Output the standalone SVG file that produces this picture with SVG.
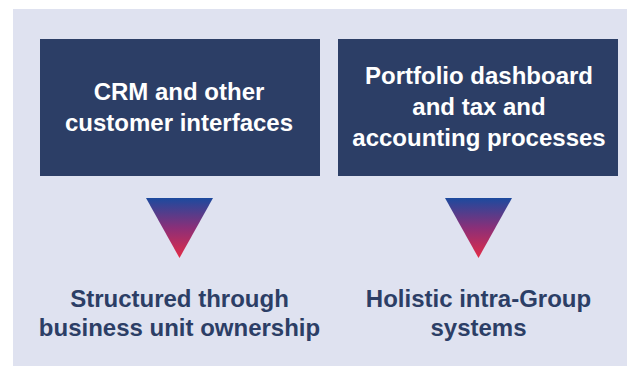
<svg xmlns="http://www.w3.org/2000/svg" width="627" height="366" viewBox="0 0 627 366">
  <defs>
    <linearGradient id="tri" x1="0" y1="0" x2="0" y2="1">
      <stop offset="0" stop-color="#1c4a9e"/>
      <stop offset="0.5" stop-color="#8b2f78"/>
      <stop offset="1" stop-color="#e32c47"/>
    </linearGradient>
    <style>
      .box { fill: #2c3e66; }
      .boxtxt { fill: #ffffff; font-family: "Liberation Sans", Arial, sans-serif; font-weight: bold; font-size: 24px; text-anchor: middle; }
      .lbl { fill: #2c3e66; font-family: "Liberation Sans", Arial, sans-serif; font-weight: bold; font-size: 24px; text-anchor: middle; }
      .arrow { fill: url(#tri); }
    </style>
  </defs>
  <rect x="0" y="0" width="627" height="366" fill="#ffffff"/>
  <rect x="13" y="9" width="614" height="357" fill="#dfe2f0"/>

  <g id="crm">
    <rect class="box" x="40" y="39" width="280" height="137"/>
    <text class="boxtxt" x="179" y="99.5">CRM and other</text>
    <text class="boxtxt" x="179" y="131">customer interfaces</text>
  </g>

  <g id="portfolio">
    <rect class="box" x="338" y="39" width="280" height="137"/>
    <text class="boxtxt" x="479" y="83.5">Portfolio dashboard</text>
    <text class="boxtxt" x="479" y="114.5">and tax and</text>
    <text class="boxtxt" x="479" y="145.5">accounting processes</text>
  </g>

  <g id="connectors">
    <polygon class="arrow" points="146,198 213,198 179.5,258"/>
    <polygon class="arrow" points="445,198 512,198 478.5,258"/>
  </g>

  <g id="business-unit">
    <text class="lbl" x="179.5" y="306.5">Structured through</text>
    <text class="lbl" x="179.5" y="336">business unit ownership</text>
  </g>

  <g id="intra-group">
    <text class="lbl" x="478.5" y="306.5">Holistic intra-Group</text>
    <text class="lbl" x="478.5" y="336">systems</text>
  </g>
</svg>
